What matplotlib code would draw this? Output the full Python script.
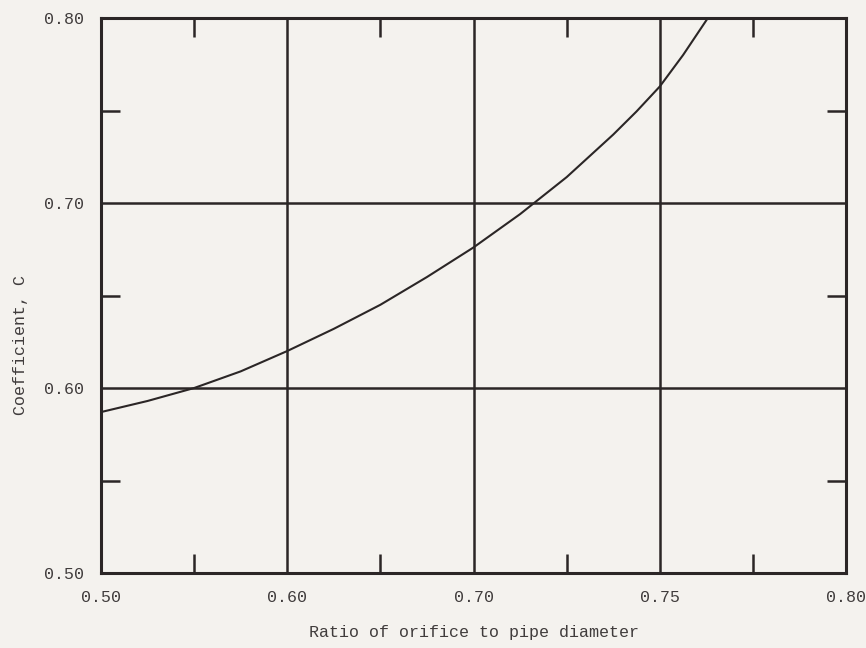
import numpy as np
import matplotlib
matplotlib.use("Agg")
from matplotlib import pyplot as plt
from matplotlib.ticker import FixedLocator, FixedFormatter

# x axis of the original is not linear: equal spacing between these labels
x_ticks = [0.50, 0.60, 0.70, 0.75, 0.80]
x_tick_labels = ["0.50", "0.60", "0.70", "0.75", "0.80"]
x_minor = [0.55, 0.65, 0.725, 0.775]
y_ticks = [0.50, 0.60, 0.70, 0.80]
y_tick_labels = ["0.50", "0.60", "0.70", "0.80"]
y_minor = [0.55, 0.65, 0.75]

# curve (ratio, coefficient)
ratio = [0.500, 0.5125, 0.525, 0.5375, 0.550, 0.5625, 0.575, 0.5875, 0.600,
         0.6125, 0.625, 0.6375, 0.650, 0.6625, 0.675, 0.6875, 0.700,
         0.70625, 0.7125, 0.71875, 0.725, 0.73125, 0.7375, 0.74375, 0.750,
         0.75625, 0.7629]
coef = [0.587, 0.590, 0.593, 0.5965, 0.600, 0.6045, 0.609, 0.6145, 0.620,
        0.626, 0.632, 0.6385, 0.645, 0.6525, 0.660, 0.668, 0.676,
        0.685, 0.694, 0.704, 0.714, 0.7255, 0.737, 0.7495, 0.763,
        0.780, 0.800]

ink = "#2b2626"
paper = "#f4f2ee"
txt = "#403c3c"


def fwd(x):
    return np.interp(x, x_ticks, np.arange(len(x_ticks)))


def inv(p):
    return np.interp(p, np.arange(len(x_ticks)), x_ticks)


fig = plt.figure(figsize=(8.66, 6.48), dpi=100, facecolor=paper)
ax = fig.add_axes([0.1166, 0.1157, 0.8604, 0.8565])
ax.set_facecolor(paper)
ax.set_xscale("function", functions=(fwd, inv))

ax.plot(ratio, coef, color=ink, linewidth=1.5, solid_joinstyle="round")

ax.set_xlim(0.50, 0.80)
ax.set_ylim(0.50, 0.80)

ax.xaxis.set_major_locator(FixedLocator(x_ticks))
ax.xaxis.set_major_formatter(FixedFormatter(x_tick_labels))
ax.xaxis.set_minor_locator(FixedLocator(x_minor))
ax.yaxis.set_major_locator(FixedLocator(y_ticks))
ax.yaxis.set_major_formatter(FixedFormatter(y_tick_labels))
ax.yaxis.set_minor_locator(FixedLocator(y_minor))

ax.grid(which="major", color=ink, linewidth=1.8)
ax.tick_params(which="major", length=0, pad=12, labelsize=12, labelcolor=txt)
ax.tick_params(which="minor", direction="in", length=14, width=1.8, color=ink,
               top=True, right=True, bottom=True, left=True)

for s in ax.spines.values():
    s.set_color(ink)
    s.set_linewidth(2.2)

for lab in ax.get_xticklabels() + ax.get_yticklabels():
    lab.set_family("Liberation Mono")

ax.set_xlabel("Ratio of orifice to pipe diameter", family="Liberation Mono",
              fontsize=12, color=txt)
ax.set_ylabel("Coefficient, C", family="Liberation Mono", fontsize=12, color=txt)
ax.xaxis.set_label_coords(0.5, -0.093)
ax.yaxis.set_label_coords(-0.098, 0.41)

fig.savefig("out.png", dpi=100, facecolor=paper)
